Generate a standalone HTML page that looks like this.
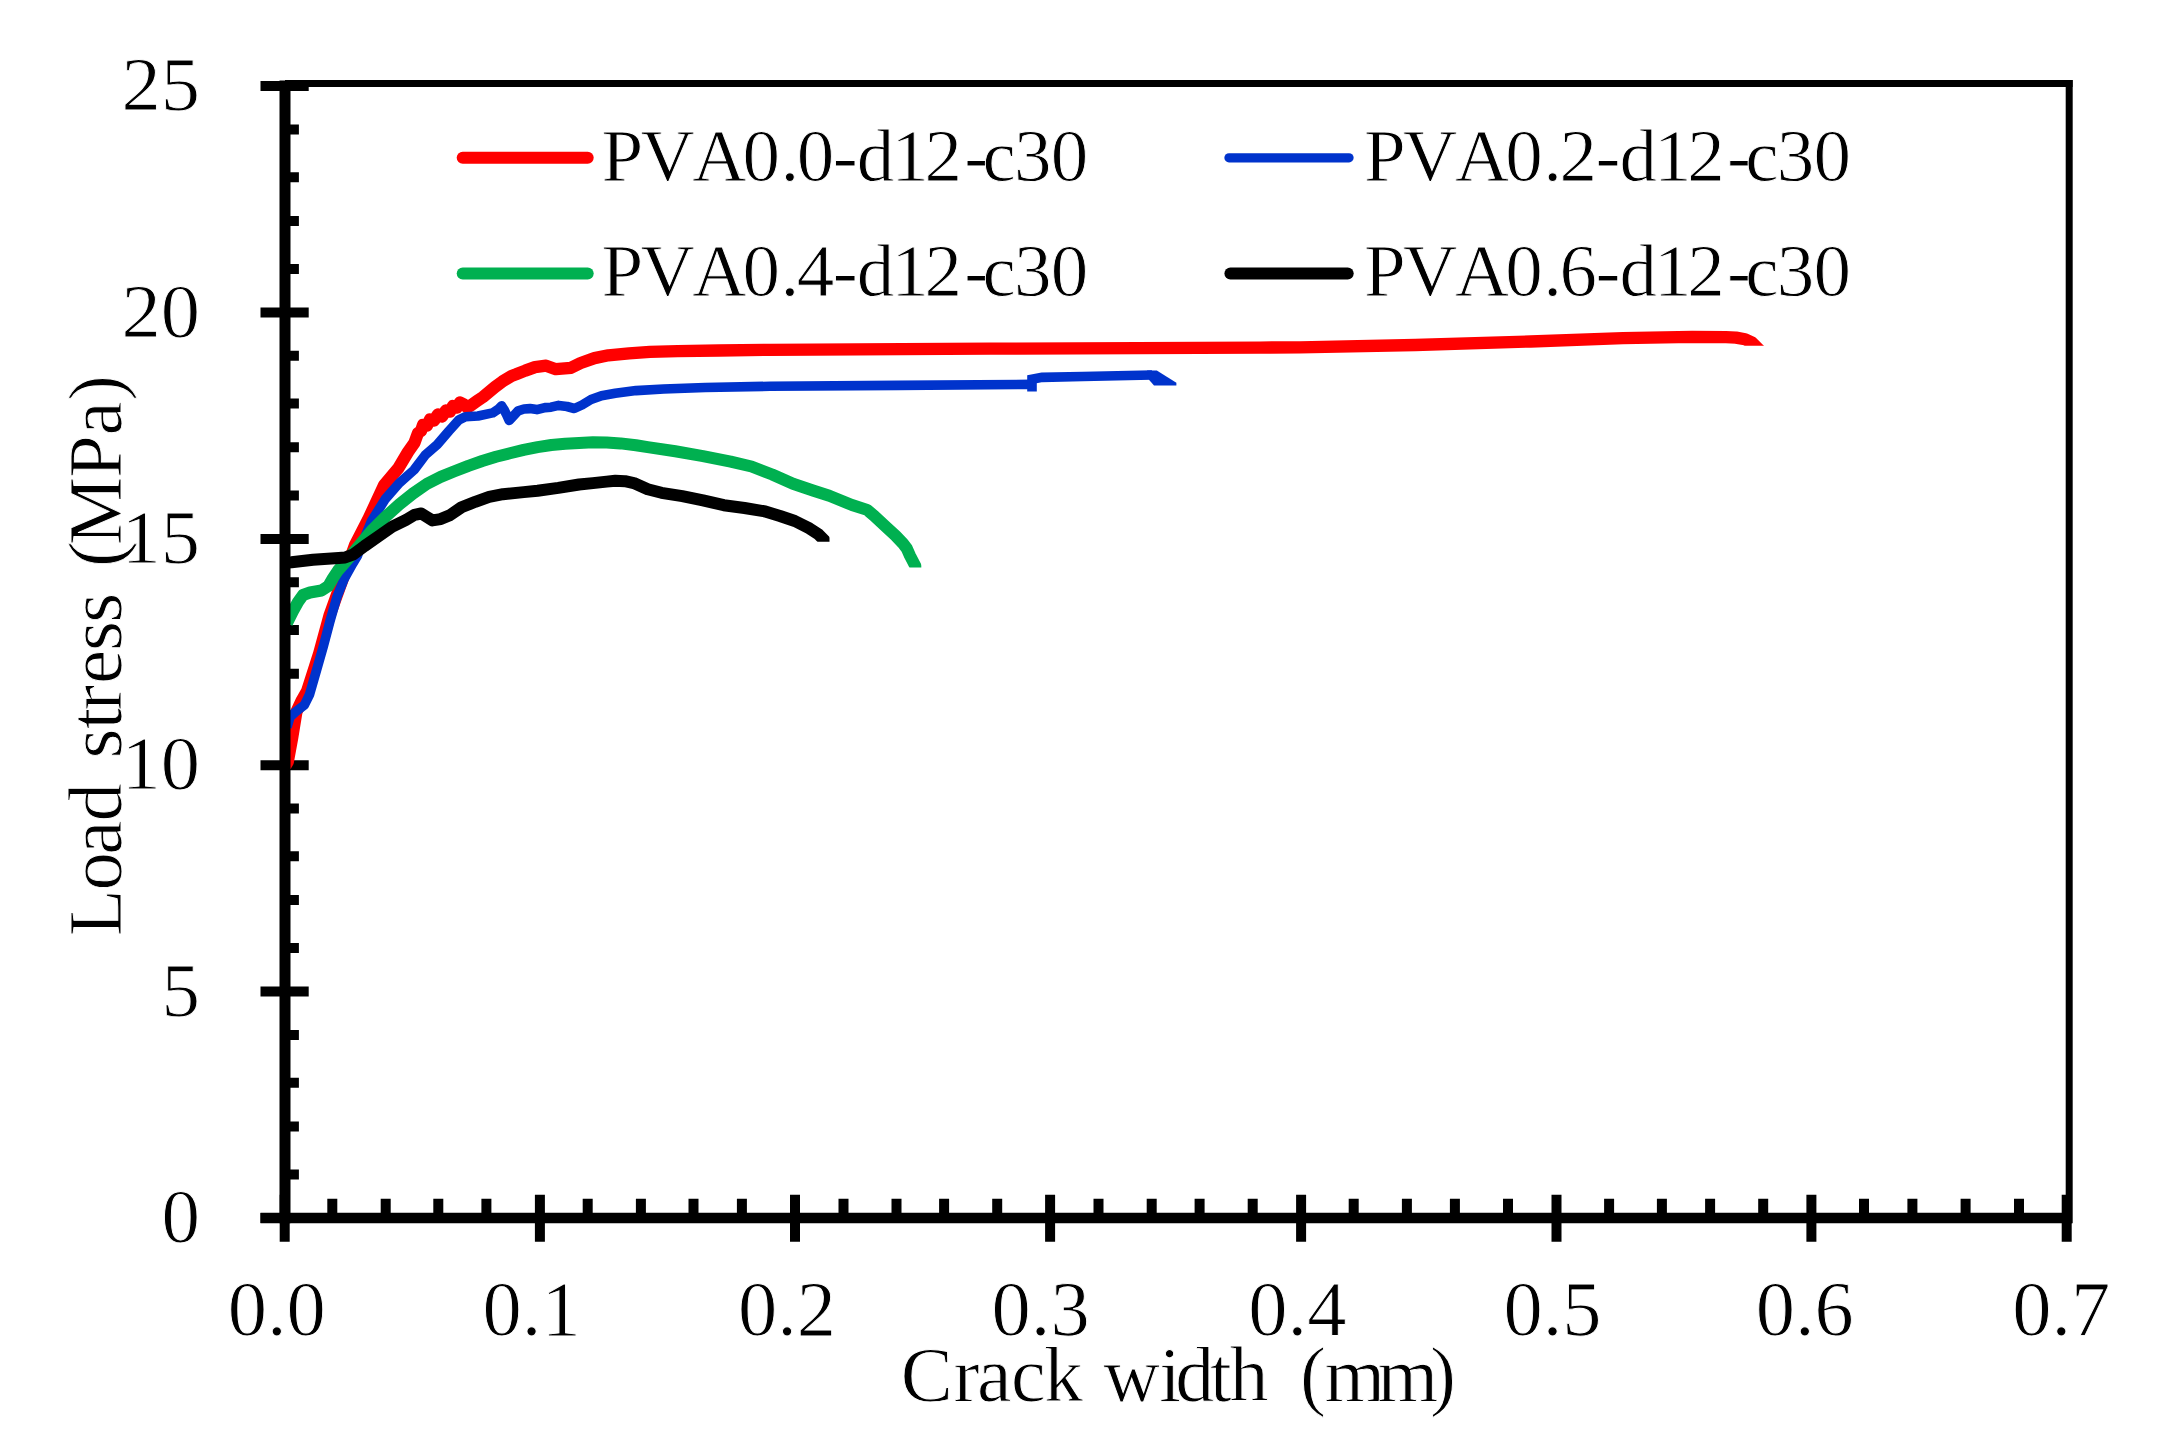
<!DOCTYPE html>
<html lang="en"><head><meta charset="utf-8"><title>Load stress vs crack width</title>
<style>html,body{margin:0;padding:0;background:#fff}body{width:2168px;height:1455px;overflow:hidden}svg{display:block}text{stroke:#fff;stroke-width:0.9px;font-family:"Liberation Serif","Times New Roman",serif;fill:#000;font-kerning:none;font-variant-ligatures:none}</style>
</head><body>
<svg width="2168" height="1455" viewBox="0 0 2168 1455">
<rect width="2168" height="1455" fill="#fff"/>
<defs>
<clipPath id="cr"><path d="M0,0H1700V1455H0Z M1700,0H2168V345.7H1700Z"/></clipPath>
<clipPath id="cg"><path d="M0,0H880V1455H0Z M880,0H921.3V567.5H880Z"/></clipPath>
<clipPath id="ck"><path d="M0,0H800V1455H0Z M800,0H829.5V541.7H800Z"/></clipPath>
</defs>
<g stroke="#000" fill="none" stroke-linecap="butt">
<path d="M260.5,86.1H308.7M285,129.4H298.9M285,177.2H298.9M285,220.9H298.9M285,269.0H298.9M260.5,312.5H308.7M285,355.8H298.9M285,403.6H298.9M285,447.3H298.9M285,495.4H298.9M260.5,538.9H308.7M285,582.2H298.9M285,630.0H298.9M285,673.7H298.9M285,721.8H298.9M260.5,765.2H308.7M285,808.5H298.9M285,856.3H298.9M285,900.0H298.9M285,948.1H298.9M260.5,991.6H308.7M285,1034.9H298.9M285,1082.7H298.9M285,1126.4H298.9M285,1174.5H298.9M260.5,1218.0H308.7" stroke-width="10"/>
<path d="M284.7,1194.7V1241.7M332.3,1198.8V1218M385.7,1198.8V1218M438.3,1198.8V1218M486.4,1198.8V1218M539.9,1194.7V1241.7M587.7,1198.8V1218M640.9,1198.8V1218M693.5,1198.8V1218M741.9,1198.8V1218M795.0,1194.7V1241.7M843.5,1198.8V1218M896.5,1198.8V1218M944.1,1198.8V1218M997.2,1198.8V1218M1050.1,1194.7V1241.7M1098.5,1198.8V1218M1151.7,1198.8V1218M1199.6,1198.8V1218M1252.7,1198.8V1218M1301.1,1194.7V1241.7M1353.7,1198.8V1218M1406.9,1198.8V1218M1454.9,1198.8V1218M1508.0,1198.8V1218M1556.5,1194.7V1241.7M1609.1,1198.8V1218M1661.9,1198.8V1218M1710.1,1198.8V1218M1763.2,1198.8V1218M1811.4,1194.7V1241.7M1864.0,1198.8V1218M1912.4,1198.8V1218M1965.6,1198.8V1218M2019.0,1198.8V1218M2066.7,1194.7V1241.7" stroke-width="10"/>
</g>
<g fill="none" stroke-linejoin="round" stroke-linecap="butt">
<path clip-path="url(#cr)" d="M285.3,766.0 L287.8,761.6 L292.2,737.6 L296.4,711.8 L302.0,700.0 L307.1,691.2 L319.2,653.4 L329.5,615.6 L336.3,596.7 L346.0,570.0 L355.0,545.0 L368.7,518.4 L384.0,485.2 L398.1,468.6 L408.0,452.0 L414.5,442.7 L418.0,433.0 L421.0,431.0 L423.0,425.0 L427.0,425.5 L430.0,419.5 L434.0,420.5 L438.0,414.5 L442.0,416.5 L446.0,410.5 L450.0,411.5 L453.0,406.0 L457.0,407.5 L460.0,402.5 L464.0,404.5 L467.5,407.5 L471.1,405.3 L477.0,401.1 L483.0,397.0 L488.4,392.5 L495.0,387.0 L502.3,381.6 L511.5,376.0 L516.1,374.3 L525.3,370.6 L535.0,367.1 L546.1,365.7 L555.8,369.2 L571.0,367.8 L580.7,363.0 L594.5,358.1 L608.4,355.3 L629.1,353.3 L649.9,351.9 L677.6,351.2 L719.1,350.5 L770.0,349.8 L990.6,348.7 L1260.0,347.6 L1300.0,347.3 L1415.3,345.0 L1530.6,341.5 L1622.9,338.1 L1692.1,336.9 L1726.0,337.2 L1736.0,337.6 L1745.0,339.2 L1752.0,342.6 L1766.0,356.6" stroke="#ff0000" stroke-width="12.3"/>
<path d="M287.0,727.0 L290.0,717.0 L296.0,711.5 L304.4,705.0 L309.5,694.6 L316.4,670.6 L323.3,646.5 L330.1,620.8 L337.0,596.7 L343.9,579.5 L352.5,564.0 L357.6,555.5 L361.0,546.0 L371.5,521.1 L385.3,499.0 L399.2,483.1 L414.0,470.0 L425.4,454.8 L437.2,444.7 L449.0,430.9 L459.0,419.8 L465.6,416.7 L478.0,416.0 L492.6,412.9 L498.5,409.0 L501.6,405.8 L504.0,409.5 L506.4,414.3 L509.2,420.5 L512.5,417.0 L518.2,410.8 L524.0,409.0 L530.0,408.6 L536.9,409.6 L545.0,407.6 L551.0,407.2 L558.6,405.4 L567.0,406.5 L574.3,408.5 L582.0,405.0 L591.0,399.5 L601.5,395.7 L615.3,393.3 L636.0,390.6 L663.7,389.0 L705.2,387.5 L770.0,386.3 L898.4,385.4 L1032.0,384.4" stroke="#0033cc" stroke-width="9.6"/>
<path d="M1032.0,391.5 L1032.0,379.2 L1042.0,377.4 L1082.9,376.5 L1140.5,375.2 L1152.0,375.0" stroke="#0033cc" stroke-width="9.6" stroke-linejoin="miter"/>
<path d="M1147,370.4 L1156.8,370.6 L1176.4,382.8 L1176.4,385.6 L1154,385.6 L1149,379.8 Z" fill="#0033cc" stroke="none"/>
<path clip-path="url(#cg)" d="M287.0,623.0 L293.0,611.0 L298.0,602.0 L303.0,595.0 L310.0,592.5 L321.5,590.5 L328.4,586.0 L333.0,578.0 L338.0,570.5 L345.0,562.5 L352.5,553.7 L371.5,530.8 L385.3,517.0 L399.2,504.5 L413.0,493.5 L426.9,483.8 L440.7,476.9 L454.5,471.3 L468.4,465.8 L482.2,461.0 L496.0,456.8 L509.9,453.3 L523.7,449.9 L537.6,447.1 L551.4,445.0 L565.2,443.7 L579.1,443.0 L592.9,442.3 L606.7,442.5 L620.6,443.4 L636.0,445.3 L647.7,447.1 L675.3,451.3 L703.0,456.1 L730.7,461.6 L751.5,466.5 L772.2,474.5 L793.0,483.8 L813.7,490.8 L829.3,495.8 L852.0,505.0 L867.1,509.9 L874.2,515.8 L885.2,526.2 L895.4,535.5 L903.0,543.5 L906.8,548.5 L909.9,555.5 L915.6,566.5 L919.0,573.0" stroke="#00b050" stroke-width="12"/>
<path clip-path="url(#ck)" d="M285.0,562.8 L291.5,562.3 L313.0,559.8 L338.7,558.0 L345.0,557.5 L353.5,554.3 L364.6,546.0 L378.4,536.4 L392.3,526.7 L406.1,519.8 L414.4,514.9 L421.3,513.5 L426.9,517.0 L432.4,520.4 L440.7,519.1 L450.4,514.9 L461.5,507.3 L475.3,501.8 L489.1,496.9 L503.0,494.2 L523.7,492.1 L537.6,490.7 L558.3,487.9 L579.1,484.5 L592.9,483.1 L606.7,481.6 L615.3,480.8 L625.0,481.2 L633.8,483.1 L647.7,489.3 L661.5,492.8 L682.3,496.2 L703.0,500.4 L723.8,505.2 L744.5,508.0 L765.3,511.5 L780.0,516.0 L794.8,521.0 L809.5,528.4 L818.4,534.3 L824.3,540.2 L831.0,549.0" stroke="#000" stroke-width="12"/>
</g>
<g stroke="#000" fill="none" stroke-linecap="butt">
<path d="M285,83.6 H2072.6" stroke-width="7"/>
<path d="M2069.2,80.1 V1223.2" stroke-width="7"/>
<path d="M285,80.5 V1223.2" stroke-width="11"/>
<path d="M260.5,1218 H2072" stroke-width="10.5"/>
</g>
<g fill="none" stroke-linecap="round">
<path d="M462.7,157.8H587.7" stroke="#ff0000" stroke-width="12"/>
<path d="M462.7,273.5H587.7" stroke="#00b050" stroke-width="12"/>
<path d="M1229,157.8H1349" stroke="#0033cc" stroke-width="9.3"/>
<path d="M1230.4,273.5H1347.7" stroke="#000" stroke-width="12"/>
</g>
<g font-size="75">
<text x="601.4 640.4 692.2 742.5 780.6 796.8 832.8 856.7 891.2 924.5 964.2 982.6 1014.0 1050.7" y="181.4">PVA0.0-d12-c30</text>
<text x="601.4 640.4 692.2 742.5 780.6 796.8 832.8 856.7 891.2 924.5 964.2 982.6 1014.0 1050.7" y="295.7">PVA0.4-d12-c30</text>
<text x="1364.1 1403.1 1454.9 1505.2 1543.3 1559.5 1595.5 1619.4 1653.9 1687.2 1726.9 1745.3 1776.7 1813.4" y="181.4">PVA0.2-d12-c30</text>
<text x="1364.1 1403.1 1454.9 1505.2 1543.3 1559.5 1595.5 1619.4 1653.9 1687.2 1726.9 1745.3 1776.7 1813.4" y="295.7">PVA0.6-d12-c30</text>
</g>
<g font-size="76" text-anchor="end">
<text x="200" y="1242.0" textLength="38.5" lengthAdjust="spacingAndGlyphs">0</text>
<text x="200" y="1015.6" textLength="38.5" lengthAdjust="spacingAndGlyphs">5</text>
<text x="200" y="789.2" textLength="78.5" lengthAdjust="spacingAndGlyphs">10</text>
<text x="200" y="562.9" textLength="78.5" lengthAdjust="spacingAndGlyphs">15</text>
<text x="200" y="336.5" textLength="78.5" lengthAdjust="spacingAndGlyphs">20</text>
<text x="200" y="110.1" textLength="78.5" lengthAdjust="spacingAndGlyphs">25</text>
</g>
<g font-size="78.5">
<text x="227.7" y="1335.3">0.0</text>
<text x="482.6" y="1335.3">0.1</text>
<text x="737.9" y="1335.3">0.2</text>
<text x="991.6" y="1335.3">0.3</text>
<text x="1248.3" y="1335.3">0.4</text>
<text x="1503.4" y="1335.3">0.5</text>
<text x="1755.7" y="1335.3">0.6</text>
<text x="2012.2" y="1335.3">0.7</text>
</g>
<text font-size="78" x="900.8 953.4 977.0 1011.1 1044.1 1083.1 1103.4 1159.3 1175.3 1209.9 1229.5 1268.5 1288.0 1300.1 1324.6 1377.5 1430.1" y="1400.5" xml:space="preserve" style="white-space:pre">Crack width  (mm)</text>
<text font-size="77" transform="translate(121.3,940) rotate(-90)" x="3.7 49.5 85.2 118.5 157.0 181.4 210.8 229.5 256.1 288.9 317.2 347.2 373.0 394.8 462.1 504.5 539.2" y="0">Load stress (MPa)</text>
</svg></body></html>
